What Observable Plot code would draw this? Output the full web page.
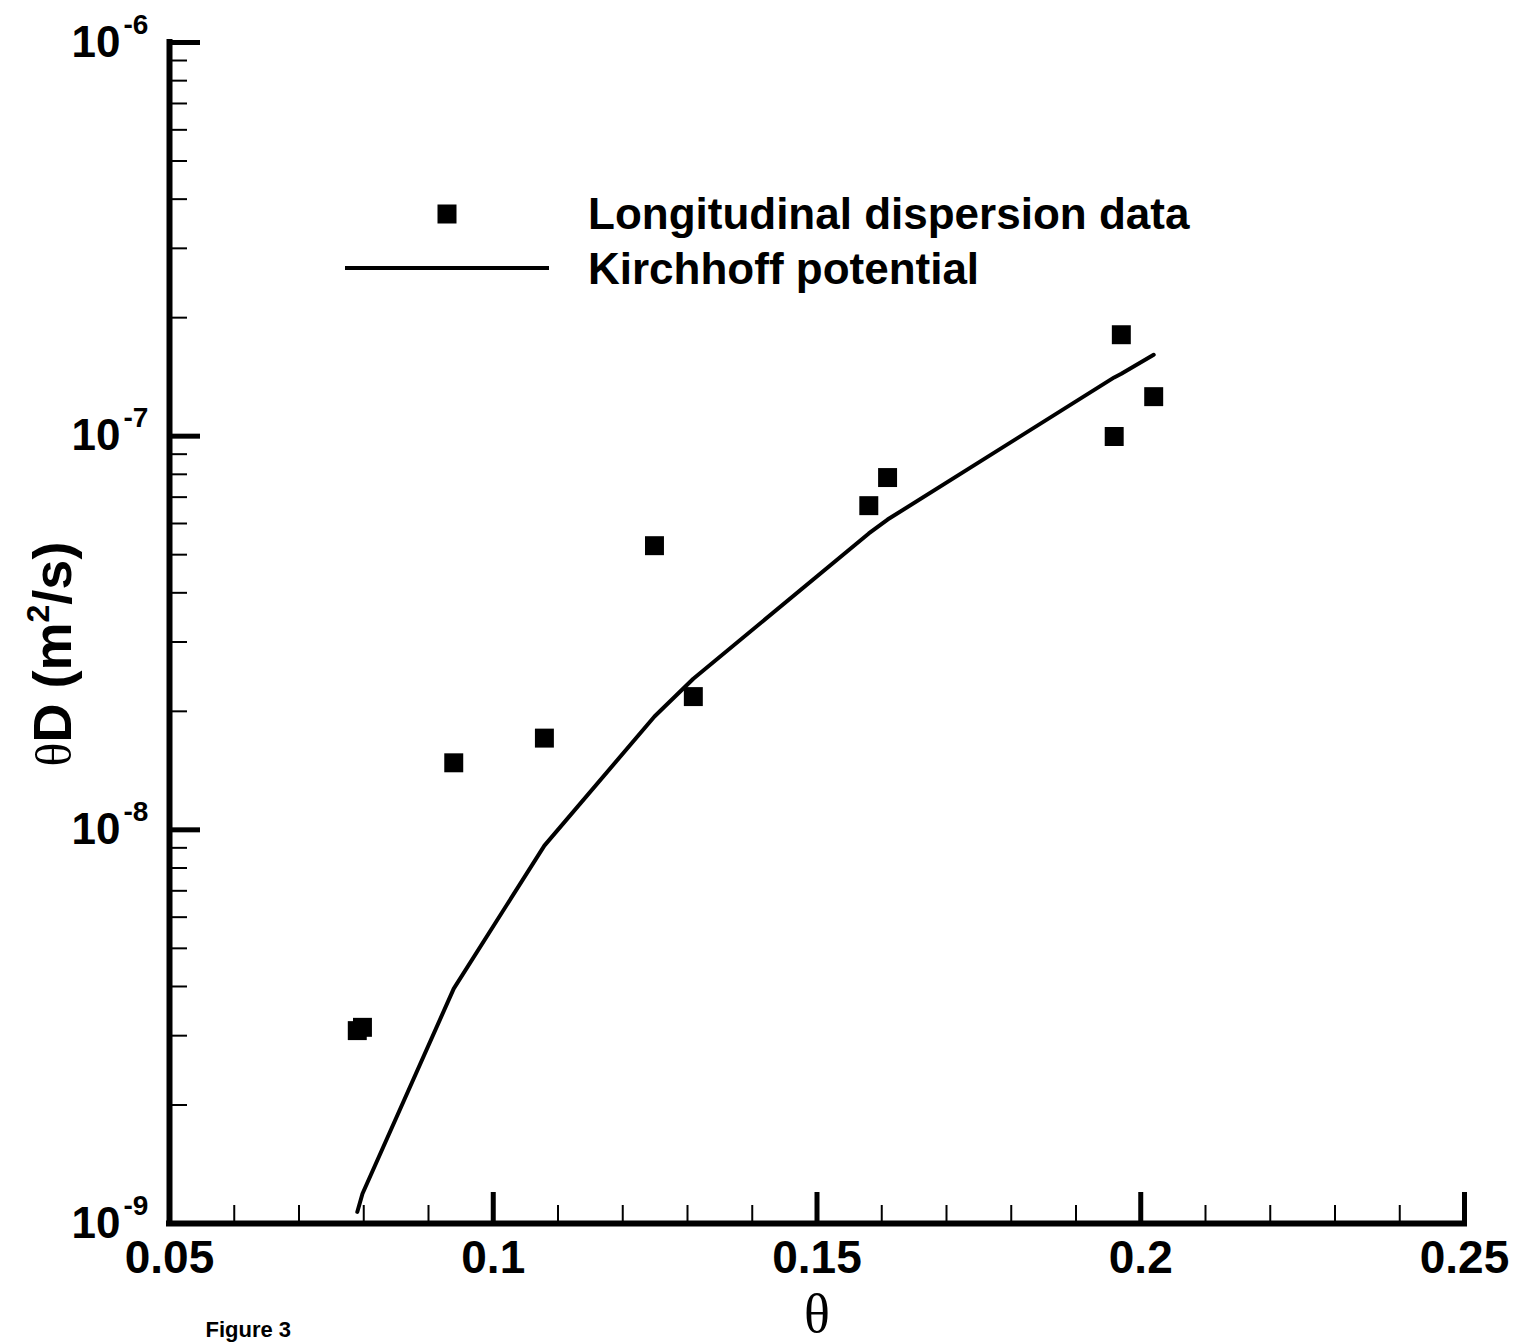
<!DOCTYPE html>
<html>
<head>
<meta charset="utf-8">
<script src="https://cdn.jsdelivr.net/npm/d3@7"></script>
<script src="https://cdn.jsdelivr.net/npm/@observablehq/plot@0.6"></script>
<style>
  html, body { margin: 0; padding: 0; background: #fff; }
  #chart { position: relative; width: 1519px; height: 1342px; overflow: hidden; }
</style>
</head>
<body>
<div id="chart"></div>
<script>
// ---- data ----
const xDomain = [0.05, 0.25];
const yDomain = [1e-9, 1e-6];

const dataTheta = [0.0790, 0.0798, 0.0939, 0.1079, 0.1249, 0.1309, 0.1580, 0.1609, 0.1959, 0.1970, 0.2020];
const dataD     = [3.09e-9, 3.15e-9, 1.48e-8, 1.71e-8, 5.27e-8, 2.18e-8, 6.66e-8, 7.85e-8, 9.98e-8, 1.81e-7, 1.26e-7];

const kirchTheta = [0.0790, 0.0798, 0.0939, 0.1079, 0.1249, 0.1309, 0.1580, 0.1609, 0.1959, 0.1970, 0.2020];
const kirchD     = [1.07e-9, 1.19e-9, 3.95e-9, 9.12e-9, 1.94e-8, 2.42e-8, 5.66e-8, 6.14e-8, 1.41e-7, 1.44e-7, 1.61e-7];

const xMajorTicks = [0.05, 0.1, 0.15, 0.2, 0.25];
const xTickLabels = ["0.05", "0.1", "0.15", "0.2", "0.25"];
const xMinorTicks = [0.06, 0.07, 0.08, 0.09, 0.11, 0.12, 0.13, 0.14, 0.16, 0.17, 0.18, 0.19, 0.21, 0.22, 0.23, 0.24];

const yMajorTicks = [1e-9, 1e-8, 1e-7, 1e-6];
const yTickBase = ["10", "10", "10", "10"];
const yTickExponents = ["-9", "-8", "-7", "-6"];
const yMinorTicks = [2e-9, 3e-9, 4e-9, 5e-9, 6e-9, 7e-9, 8e-9, 9e-9,
                     2e-8, 3e-8, 4e-8, 5e-8, 6e-8, 7e-8, 8e-8, 9e-8,
                     2e-7, 3e-7, 4e-7, 5e-7, 6e-7, 7e-7, 8e-7, 9e-7];

const legendLabels = ["Longitudinal dispersion data", "Kirchhoff potential"];
const xLabel = "θ";
const caption = "Figure 3";

// ---- tables ----
const points = dataTheta.map((t, i) => ({theta: t, D: dataD[i]}));
const curve = kirchTheta.map((t, i) => ({theta: t, D: kirchD[i]}));

// ---- layout ----
const W = 1519, H = 1342;
const mL = 169, mR = 55, mT = 42, mB = 119;
const fw = W - mL - mR, fh = H - mT - mB;
const SANS = "'Liberation Sans', Arial, Helvetica, sans-serif";
const SERIF = "'Liberation Serif', 'Times New Roman', Times, serif";

const chart = Plot.plot({
  width: W, height: H,
  marginLeft: mL, marginRight: mR, marginTop: mT, marginBottom: mB,
  style: {fontFamily: SANS, background: "#fff", color: "#000", overflow: "visible"},
  x: {domain: xDomain, axis: null},
  y: {type: "log", domain: yDomain, axis: null},
  marks: [
    // minor & major ticks (inward)
    Plot.ruleX(xMinorTicks, {x: d => d, insetTop: fh - 18, stroke: "#000", strokeWidth: 2}),
    Plot.ruleX(xMajorTicks, {x: d => d, insetTop: fh - 31, stroke: "#000", strokeWidth: 5}),
    Plot.ruleY(yMinorTicks, {y: d => d, insetRight: fw - 18, stroke: "#000", strokeWidth: 2}),
    Plot.ruleY(yMajorTicks, {y: d => d, insetRight: fw - 31, stroke: "#000", strokeWidth: 5}),
    // axis lines
    Plot.ruleX([xDomain[0]], {x: d => d, stroke: "#000", strokeWidth: 6, strokeLinecap: "square"}),
    Plot.ruleY([yDomain[0]], {y: d => d, stroke: "#000", strokeWidth: 6, strokeLinecap: "square"}),
    // tick labels
    Plot.text(xMajorTicks, {x: d => d, frameAnchor: "bottom", text: xTickLabels, dy: 49,
      lineAnchor: "bottom", fontSize: 46, fontWeight: "bold", fill: "#000"}),
    Plot.text(yMajorTicks, {y: d => d, frameAnchor: "left", text: yTickBase, dx: -49,
      textAnchor: "end", lineAnchor: "middle", fontSize: 44, fontWeight: "bold", fill: "#000"}),
    Plot.text(yMajorTicks, {y: d => d, frameAnchor: "left", text: yTickExponents, dx: -46, dy: -9,
      textAnchor: "start", lineAnchor: "bottom", fontSize: 28, fontWeight: "bold", fill: "#000"}),
    // x label
    Plot.text([xLabel], {frameAnchor: "bottom", text: d => d, dy: 108, lineAnchor: "bottom",
      fontSize: 54, fontFamily: SERIF, fill: "#000"}),
    // caption
    Plot.text([caption], {frameAnchor: "bottom-left", text: d => d, dx: 36, dy: 113, textAnchor: "start",
      lineAnchor: "bottom", fontSize: 22, fontWeight: "bold", fill: "#000"}),
    // data
    Plot.line(curve, {x: "theta", y: "D", stroke: "#000", strokeWidth: 4, strokeLinejoin: "round"}),
    Plot.dot(points, {x: "theta", y: "D", symbol: "square", r: 10.7, fill: "#000", stroke: "none"})
  ]
});

document.getElementById("chart").appendChild(chart);

// ---- y-axis title and legend (decorations) ----
const svg = d3.select(chart);

const yt = svg.append("text")
  .attr("transform", "translate(71,654) rotate(-90)")
  .attr("text-anchor", "middle")
  .attr("fill", "#000");
yt.append("tspan").attr("font-family", SERIF).attr("font-size", 50).text("θ");
yt.append("tspan").attr("font-family", SANS).attr("font-weight", "bold").attr("font-size", 54).text("D (m");
yt.append("tspan").attr("font-family", SANS).attr("font-weight", "bold").attr("font-size", 32).attr("dy", -22).text("2");
yt.append("tspan").attr("font-family", SANS).attr("font-weight", "bold").attr("font-size", 54).attr("dy", 22).text("/s)");

const lg = svg.append("g").attr("text-anchor", "start");
lg.append("rect").attr("x", 437.5).attr("y", 204.5).attr("width", 19).attr("height", 19).attr("fill", "#000");
lg.append("line").attr("x1", 345).attr("x2", 549).attr("y1", 268).attr("y2", 268)
  .attr("stroke", "#000").attr("stroke-width", 4);
lg.append("text").attr("x", 588).attr("y", 229).attr("text-anchor", "start").attr("font-family", SANS)
  .attr("font-weight", "bold").attr("font-size", 44).attr("fill", "#000").text(legendLabels[0]);
lg.append("text").attr("x", 588).attr("y", 284).attr("text-anchor", "start").attr("font-family", SANS)
  .attr("font-weight", "bold").attr("font-size", 44).attr("fill", "#000").text(legendLabels[1]);
</script>
</body>
</html>
